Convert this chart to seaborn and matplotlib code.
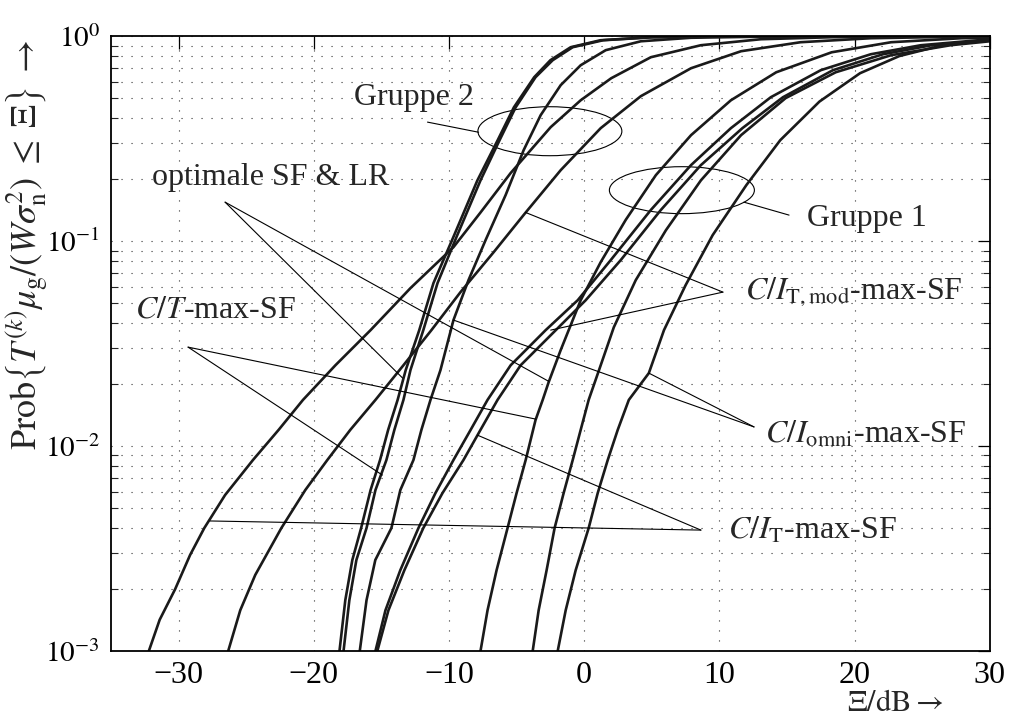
import matplotlib
matplotlib.use("Agg")
import matplotlib.pyplot as plt
import numpy as np
import pandas as pd
import seaborn as sns
from matplotlib.patches import Ellipse
from matplotlib.ticker import FixedLocator, NullFormatter, FixedFormatter

# ---- CDF curves: threshold Xi in dB and Prob{... <= Xi} ----
# Gruppe 2
xi_g2_opt = [-18.1, -17.67, -17.15, -16.5, -15.8, -15.1, -14.5, -13.8, -13.2, -12.2, -11.15, -9.67, -7.9, -6.4, -5.2, -3.7, -2.5, -1.0, 1.2, 4.9, 10.1, 16.0]
p_g2_opt = [1.0e-3, 1.77e-3, 2.78e-3, 3.98e-3, 6.1e-3, 8.55e-3, 1.2e-2, 1.68e-2, 2.35e-2, 3.68e-2, 6.24e-2, 0.105, 0.198, 0.311, 0.45, 0.631, 0.764, 0.884, 0.956, 0.989, 0.997, 0.999]

xi_g2_ct = [-17.8, -17.37, -16.85, -16.1, -15.44, -14.63, -14.04, -13.37, -12.85, -11.9, -10.85, -9.44, -7.67, -6.26, -5.07, -3.6, -2.33, -0.85, 1.4, 5.1, 10.3, 16.0]
p_g2_ct = [1.0e-3, 1.77e-3, 2.78e-3, 3.98e-3, 6.1e-3, 8.55e-3, 1.2e-2, 1.68e-2, 2.35e-2, 3.68e-2, 6.24e-2, 0.105, 0.198, 0.311, 0.45, 0.631, 0.764, 0.884, 0.956, 0.989, 0.997, 0.999]

xi_g2_omni = [-16.6, -16.1, -15.45, -14.26, -13.6, -12.63, -12.04, -11.37, -10.63, -9.67, -8.56, -7.3, -5.81, -4.48, -3.22, -1.74, -0.26, 1.59, 4.19, 7.9, 13.1, 20.0]
p_g2_omni = [1.0e-3, 1.77e-3, 2.78e-3, 3.98e-3, 6.1e-3, 8.55e-3, 1.2e-2, 1.68e-2, 2.35e-2, 4.12e-2, 6.45e-2, 0.101, 0.168, 0.278, 0.412, 0.577, 0.722, 0.855, 0.945, 0.983, 0.995, 0.999]

xi_g2_it = [-32.2, -31.4, -30.26, -29.15, -28.1, -26.56, -24.5, -22.6, -20.8, -18.4, -15.8, -12.85, -9.67, -7.67, -5.44, -2.48, -0.26, 2.0, 4.93, 8.63, 13.07, 18.3, 23.4, 30.0]
p_g2_it = [1.0e-3, 1.42e-3, 2.0e-3, 2.94e-3, 3.98e-3, 5.77e-3, 8.55e-3, 1.2e-2, 1.68e-2, 2.48e-2, 3.68e-2, 5.9e-2, 9.35e-2, 0.138, 0.215, 0.36, 0.487, 0.624, 0.79, 0.904, 0.967, 0.989, 0.996, 0.998]

xi_g2_itmod = [-26.33, -25.44, -24.33, -22.4, -20.63, -19.0, -17.3, -15.44, -13.37, -11.3, -9.15, -6.7, -4.33, -1.74, 1.22, 4.19, 7.9, 11.6, 16.0, 21.2, 27.1, 30.0]
p_g2_itmod = [1.0e-3, 1.58e-3, 2.35e-3, 3.98e-3, 6.1e-3, 8.55e-3, 1.2e-2, 1.68e-2, 2.48e-2, 3.68e-2, 5.64e-2, 8.83e-2, 0.138, 0.222, 0.356, 0.51, 0.698, 0.845, 0.935, 0.978, 0.993, 0.997]

# Gruppe 1
xi_g1_it = [-15.44, -14.7, -13.6, -12.26, -11.0, -9.67, -8.4, -7.15, -5.44, -2.85, -0.48, 1.96, 4.93, 7.9, 10.85, 13.8, 17.5, 21.2, 24.9, 30.0]
p_g1_it = [1.0e-3, 1.58e-3, 2.48e-3, 3.98e-3, 5.9e-3, 8.55e-3, 1.2e-2, 1.68e-2, 2.48e-2, 3.68e-2, 5.15e-2, 8.08e-2, 0.142, 0.235, 0.356, 0.504, 0.683, 0.817, 0.904, 0.967]

xi_g1_itmod = [-15.3, -14.48, -13.3, -11.9, -10.48, -8.93, -7.67, -6.41, -4.7, -2.1, 0.11, 2.7, 5.67, 8.63, 11.7, 14.7, 18.4, 22.1, 25.7, 30.0]
p_g1_itmod = [1.0e-3, 1.58e-3, 2.48e-3, 3.98e-3, 5.9e-3, 8.55e-3, 1.2e-2, 1.68e-2, 2.48e-2, 3.68e-2, 5.15e-2, 8.08e-2, 0.142, 0.235, 0.356, 0.504, 0.683, 0.817, 0.904, 0.956]

xi_g1_opt = [-7.67, -7.15, -6.48, -5.67, -5.0, -4.33, -3.6, -3.07, -2.63, -1.74, -0.26, 1.22, 3.07, 5.3, 7.9, 10.85, 14.2, 18.3, 22.7, 27.9, 30.0]
p_g1_opt = [1.0e-3, 1.58e-3, 2.48e-3, 3.98e-3, 5.9e-3, 8.55e-3, 1.34e-2, 1.68e-2, 2.05e-2, 2.94e-2, 5.15e-2, 7.9e-2, 0.127, 0.21, 0.329, 0.487, 0.667, 0.835, 0.935, 0.978, 0.983]

xi_g1_ct = [-3.81, -3.37, -2.78, -2.19, -1.52, -0.85, -0.26, 0.33, 1.22, 2.19, 3.81, 6.04, 8.63, 11.6, 14.9, 18.6, 22.7, 27.1, 30.0]
p_g1_ct = [1.0e-3, 1.58e-3, 2.48e-3, 3.98e-3, 5.9e-3, 8.55e-3, 1.2e-2, 1.68e-2, 2.48e-2, 3.8e-2, 6.45e-2, 0.113, 0.198, 0.329, 0.499, 0.667, 0.808, 0.904, 0.945]

xi_g1_omni = [-1.96, -1.37, -0.63, 0.33, 1.0, 1.74, 2.48, 3.3, 4.78, 5.9, 7.5, 9.5, 12.0, 14.5, 17.4, 20.4, 23.3, 26.4, 30.0]
p_g1_omni = [1.0e-3, 1.58e-3, 2.48e-3, 3.98e-3, 5.9e-3, 8.55e-3, 1.2e-2, 1.68e-2, 2.27e-2, 3.68e-2, 6.1e-2, 0.107, 0.188, 0.311, 0.48, 0.66, 0.8, 0.9, 0.96]

curves = {
    "g2_opt": (xi_g2_opt, p_g2_opt),
    "g2_ct": (xi_g2_ct, p_g2_ct),
    "g2_omni": (xi_g2_omni, p_g2_omni),
    "g2_it": (xi_g2_it, p_g2_it),
    "g2_itmod": (xi_g2_itmod, p_g2_itmod),
    "g1_it": (xi_g1_it, p_g1_it),
    "g1_itmod": (xi_g1_itmod, p_g1_itmod),
    "g1_opt": (xi_g1_opt, p_g1_opt),
    "g1_ct": (xi_g1_ct, p_g1_ct),
    "g1_omni": (xi_g1_omni, p_g1_omni),
}

x_ticks = [-30, -20, -10, 0, 10, 20, 30]
x_ticklabels = ["\u221230", "\u221220", "\u221210", "0", "10", "20", "30"]
y_ticks = [1e-3, 1e-2, 1e-1, 1e0]
y_ticklabels = [r"$10^{-3}$", r"$10^{-2}$", r"$10^{-1}$", r"$10^{0}$"]

rows = []
for name, (xs, ps) in curves.items():
    for i, (x, p) in enumerate(zip(xs, ps)):
        rows.append({"curve": name, "order": i, "xi": x, "prob": p})
df = pd.DataFrame(rows)

sns.set_theme(style="white")
plt.rcParams["font.family"] = ["Liberation Serif", "DejaVu Serif"]
plt.rcParams["mathtext.fontset"] = "stix"
plt.rcParams["axes.unicode_minus"] = True

fig = plt.figure(figsize=(10.09, 7.19), dpi=100)
ax = fig.add_axes([0.110, 0.0946, 0.871, 0.855])

sns.lineplot(data=df, x="xi", y="prob", units="curve", estimator=None,
             sort=False, color="#1a1a1a", linewidth=1.9, ax=ax, legend=False)

ax.set_yscale("log")
ax.set_xlim(-35, 30)
ax.set_ylim(1e-3, 1)

ax.xaxis.set_major_locator(FixedLocator(x_ticks))
ax.set_xticklabels(x_ticklabels)
ax.yaxis.set_major_locator(FixedLocator(y_ticks))
ax.yaxis.set_major_formatter(FixedFormatter(y_ticklabels))
minor_y = [m * 10.0 ** e for e in (-3, -2, -1) for m in range(2, 10)]
ax.yaxis.set_minor_locator(FixedLocator(minor_y))
ax.yaxis.set_minor_formatter(NullFormatter())

ax.tick_params(axis="both", which="major", direction="in", length=9, width=0.9,
               top=True, right=True, colors="black")
ax.tick_params(axis="x", which="major", pad=7, labelsize=23)
ax.tick_params(axis="y", which="major", pad=8, labelsize=21)
ax.tick_params(axis="y", which="minor", direction="in", length=5, width=0.8,
               left=True, right=True)

grid_kw = dict(color="#333333", linestyle=(0, (1, 8)), linewidth=0.8)
ax.grid(True, which="major", axis="both", **grid_kw)
ax.grid(True, which="minor", axis="y", **grid_kw)
ax.set_axisbelow(True)
for sp in ax.spines.values():
    sp.set_color("black")
    sp.set_linewidth(1.3)

ax.set_xlabel("")
ax.set_ylabel("")
fig.text(0.026, 0.66,
         r"$\mathrm{Prob}\left\{T^{(k)}\mu_{\mathrm{g}}/(W\sigma_{\mathrm{n}}^{2})\;\leq\;\Xi\right\}\;\rightarrow$",
         fontsize=26, rotation=90, ha="center", va="center")
fig.text(0.887, 0.002, r"$\Xi/\mathrm{dB}\rightarrow$", fontsize=22, ha="center", va="bottom")

# annotation text
fs = 23
ax.text(-12.56, 0.50, "Gruppe 2", fontsize=fs, ha="center", va="center")
ax.text(-23.2, 0.205, "optimale SF & LR", fontsize=fs, ha="center", va="center")
ax.text(-27.3, 0.046, r"$C/T$-max-SF", fontsize=fs, ha="center", va="center")
ax.text(20.9, 0.129, "Gruppe 1", fontsize=fs, ha="center", va="center")
ax.text(11.9, 0.0564, r"$C/I_{\mathrm{T,mod}}$-max-SF", fontsize=fs, ha="left", va="center")
ax.text(13.4, 0.0114, r"$C/I_{\mathrm{omni}}$-max-SF", fontsize=fs, ha="left", va="center")
ax.text(10.6, 0.00385, r"$C/I_{\mathrm{T}}$-max-SF", fontsize=fs, ha="left", va="center")

# pointer lines: (start, end) pairs in data coordinates
pointers = [
    ((-26.56, 0.155), (-13.44, 0.0215)),
    ((-26.56, 0.155), (-2.63, 0.0207)),
    ((-29.3, 0.0304), (-14.93, 0.00722)),
    ((-29.3, 0.0304), (-3.59, 0.01354)),
    ((10.26, 0.0564), (-4.33, 0.138)),
    ((10.26, 0.0564), (-2.48, 0.0368)),
    ((12.56, 0.0124), (-9.67, 0.0412)),
    ((12.56, 0.0124), (4.78, 0.0227)),
    ((8.63, 0.00389), (-27.67, 0.00431)),
    ((8.63, 0.00389), (-7.89, 0.0113)),
    ((-11.59, 0.381), (-7.81, 0.340)),
    ((11.81, 0.155), (15.15, 0.134)),
]
for (x0, y0), (x1, y1) in pointers:
    ax.plot([x0, x1], [y0, y1], color="black", linewidth=0.8)

ax.add_patch(Ellipse((0.4994, 0.8455), 0.1638, 0.0797, transform=ax.transAxes,
                     fill=False, edgecolor="black", linewidth=0.8))
ax.add_patch(Ellipse((0.6496, 0.7496), 0.165, 0.0764, transform=ax.transAxes,
                     fill=False, edgecolor="black", linewidth=0.8))

fig.savefig("out.png", dpi=100, facecolor="white")
